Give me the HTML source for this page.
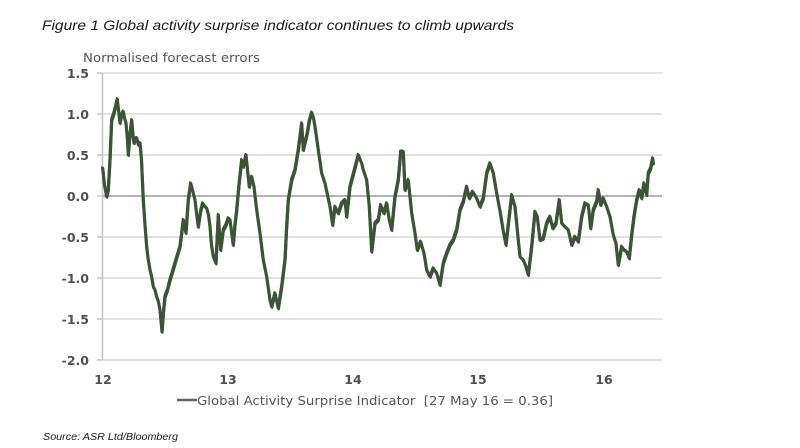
<!DOCTYPE html>
<html>
<head>
<meta charset="utf-8">
<style>
  html,body{margin:0;padding:0;background:#fff;}
  svg{display:block;}
</style>
</head>
<body>
<svg width="800" height="448" viewBox="0 0 800 448" xmlns="http://www.w3.org/2000/svg" xmlns:xlink="http://www.w3.org/1999/xlink">
  <rect width="800" height="448" fill="#fff"/>
  <!-- Title -->
  <text x="42" y="30" font-family="Liberation Sans, sans-serif" font-style="italic" font-size="14" fill="#1a1a1a" textLength="472" lengthAdjust="spacingAndGlyphs">Figure 1 Global activity surprise indicator continues to climb upwards</text>

  <!-- Y axis title -->
  <text x="83" y="62" font-family="DejaVu Sans, sans-serif" font-size="12.5" fill="#555" textLength="177" lengthAdjust="spacingAndGlyphs">Normalised forecast errors</text>

  <!-- Gridlines -->
  <g stroke="#d8d8d8" stroke-width="1.5">
    <line x1="102" y1="73" x2="662" y2="73"/>
    <line x1="102" y1="114" x2="662" y2="114"/>
    <line x1="102" y1="155" x2="662" y2="155"/>
    <line x1="102" y1="237" x2="662" y2="237"/>
    <line x1="102" y1="278" x2="662" y2="278"/>
    <line x1="102" y1="319" x2="662" y2="319"/>
    <line x1="102" y1="360" x2="662" y2="360"/>
  </g>
  <line x1="102" y1="196" x2="662" y2="196" stroke="#9a9a9a" stroke-width="1.5"/>
  <!-- Y axis -->
  <line x1="102.5" y1="73" x2="102.5" y2="360" stroke="#c4c4c4" stroke-width="1.5"/>
  <g stroke="#c4c4c4" stroke-width="1.5">
    <line x1="97" y1="73" x2="102" y2="73"/>
    <line x1="97" y1="114" x2="102" y2="114"/>
    <line x1="97" y1="155" x2="102" y2="155"/>
    <line x1="97" y1="196" x2="102" y2="196"/>
    <line x1="97" y1="237" x2="102" y2="237"/>
    <line x1="97" y1="278" x2="102" y2="278"/>
    <line x1="97" y1="319" x2="102" y2="319"/>
    <line x1="97" y1="360" x2="102" y2="360"/>
  </g>

  <!-- Y tick labels -->
  <g font-family="DejaVu Sans, sans-serif" font-size="12.5" fill="#505050" text-anchor="end" font-weight="bold">
    <text x="89" y="78">1.5</text>
    <text x="89" y="119">1.0</text>
    <text x="89" y="160">0.5</text>
    <text x="89" y="201">0.0</text>
    <text x="89" y="242">-0.5</text>
    <text x="89" y="283">-1.0</text>
    <text x="89" y="324">-1.5</text>
    <text x="89" y="365">-2.0</text>
  </g>

  <!-- X tick labels -->
  <g font-family="DejaVu Sans, sans-serif" font-size="12.5" fill="#505050" text-anchor="middle" font-weight="bold">
    <text x="103" y="384">12</text>
    <text x="228" y="384">13</text>
    <text x="353" y="384">14</text>
    <text x="478" y="384">15</text>
    <text x="604" y="384">16</text>
  </g>

  <!-- Series -->
  <defs>
  <polyline id="series" fill="none" stroke-linejoin="round" stroke-linecap="round" points="
102.7,168.3 104.5,185 106.7,196.7 108.3,190 110,160 111.7,120 114,113 115.5,107 117.3,99.3 118.5,110 120,123 121.5,115 123.3,111.7 124.5,118 126,123 127.5,140 128.3,155 130,135 131.7,120 133,135 134,143 135.5,139 136.7,138 138.5,145 140,143 141.5,160 143.3,200 145,225 146.7,246.7 148,258 150,270 151.5,276 153.3,286.7 155,290 156.7,296.7 158.5,302 160,310 162,331.7 163.5,312 165,296.7 167.5,290 170,280 172.5,272 175,263.3 177.5,255 180,246.7 181.5,235 183.3,220 186,233 188.3,200 190.7,183.3 192.5,190 195,200 196.5,213 198.3,226.7 200.5,212 202.7,203.3 204.5,206 206.7,208.3 208.5,215 210,226.7 211.5,245 213.3,256.7 216,263.3 218.3,215 220.7,250 223.3,230 226,225 228.3,218.3 230,220 233.3,245 235,225 236.7,210 239,185 241.7,160 243.3,166.7 246,155 247.5,170 249.3,186.7 251.7,176.7 254,186.7 256.7,210 260,233.3 263.3,260 266.7,276.7 270,300 271.7,306.7 275,293.3 278.3,308.3 281.7,286.7 285,260 286.5,230 288.3,200 291.7,180 295,170 298.3,150 301.7,123.3 303.3,150 307.3,133.3 309.5,120 311.7,112.7 313.5,118 315,126.7 318.3,150 321.7,173.3 325,183.3 327.5,195 330,206.7 332.7,225 335,206.7 338.3,213.3 341.7,203.3 345,200 346.7,216.7 350,186.7 354,171.7 358.3,155 361.7,163.3 363.3,170 366.7,180 369.3,206.7 371.7,251.7 375,223.3 378.3,220 380.7,205 384,213.3 386.7,203.3 389.3,220 391.7,230 395,196.7 398.3,180 400.7,151.7 403.3,151.7 405,190 408.3,180 411.7,213.3 415,233.3 417.3,250 420.7,241.7 424,253.3 426.7,270 430,276.7 433.3,268.3 436.7,273.3 440,285 443.3,263.3 446.7,253.3 450,245 453.3,240 456.7,230 460,210 463.3,201.7 466.7,186.7 469.3,198.3 472.7,191.7 476.7,198.3 480,206.7 483.3,198.3 486.7,173.3 490,163.3 493.3,173.3 496.7,193.3 500,211 503.3,231 506,245 509.3,216 511.7,195 515,206.7 518.3,240 520,256.7 523.3,260 526,266.7 528.3,275 531.7,246.7 535,211.7 537.3,216.7 540,240 543.3,238.3 546.7,223.3 550,216.7 552.7,228.3 556,223.3 559.3,200 561.7,223.3 565,226.7 568.3,230 571.7,245 575,236.7 578.3,241.7 581.7,216.7 585,203.3 588.3,205 590.7,228.3 593.3,210 596.7,201.7 598.3,190 600.7,205 603.3,198.3 606.7,206.7 610,216.7 613.3,235 616,243.3 618.3,265 621.7,246.7 624,250 626.7,251.7 629.3,258.3 631.7,235 634,216.7 636.7,200 639.3,190 641.7,198.3 644,183.3 646.7,195 648.3,173.3 650.7,168.3 652.7,158.3 653.3,163.3"/>
  </defs>
  <g fill="none" stroke="#3a5535">
    <use xlink:href="#series" href="#series" stroke-width="3.2"/>
    <use xlink:href="#series" href="#series" stroke-width="1.8" transform="translate(0.6,1.3)"/>
    <use xlink:href="#series" href="#series" stroke-width="1.8" transform="translate(-0.6,-1.3)"/>
  </g>

  <!-- Legend -->
  <line x1="177" y1="400" x2="197" y2="400" stroke="#666" stroke-width="2.5"/>
  <text x="197" y="405" font-family="DejaVu Sans, sans-serif" font-size="12.5" fill="#555" textLength="356" lengthAdjust="spacingAndGlyphs" xml:space="preserve">Global Activity Surprise Indicator  [27 May 16 = 0.36]</text>

  <!-- Source -->
  <text x="43" y="440" font-family="Liberation Sans, sans-serif" font-style="italic" font-size="10" fill="#1a1a1a" textLength="135" lengthAdjust="spacingAndGlyphs">Source: ASR Ltd/Bloomberg</text>
</svg>
</body>
</html>
